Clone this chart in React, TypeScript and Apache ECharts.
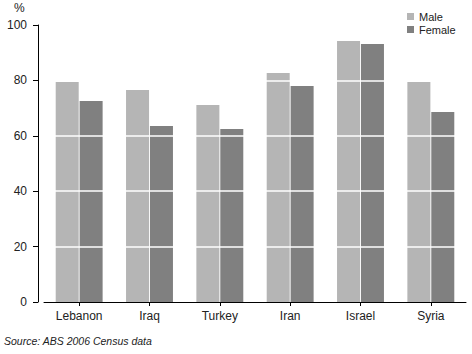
import React, { useEffect, useRef } from "react";
import * as echarts from "echarts";

const categories = ["Lebanon", "Iraq", "Turkey", "Iran", "Israel", "Syria"];
const maleValues = [79.4, 76.5, 71.1, 82.7, 94.2, 79.4];
const femaleValues = [72.6, 63.5, 62.5, 78.0, 93.1, 68.6];
const gridValues = [20, 40, 60, 80];

const FONT = "Liberation Sans, Arial, sans-serif";

export default function App() {
  const ref = useRef<HTMLDivElement>(null);
  useEffect(() => {
    if (!ref.current) return;
    const chart = echarts.init(ref.current, undefined, { renderer: "svg" });
    chart.setOption({
      animation: false,
      backgroundColor: "#ffffff",
      textStyle: { fontFamily: FONT },
      grid: { left: 44, right: 6, top: 25, bottom: 52 },
      legend: {
        orient: "vertical",
        left: 402,
        top: 6,
        itemWidth: 7,
        itemHeight: 7,
        itemGap: 2,
        icon: "rect",
        textStyle: { fontSize: 11, color: "#222", fontFamily: FONT },
        data: ["Male", "Female"],
      },
      graphic: [
        { type: "text", left: 14, top: 2, style: { text: "%", fontSize: 12, fill: "#222", fontFamily: FONT } },
        {
          type: "text",
          left: 4,
          top: 335,
          style: { text: "Source: ABS 2006 Census data", fontSize: 10.5, fontStyle: "italic", fill: "#222", fontFamily: FONT },
        },
      ],
      xAxis: {
        type: "category",
        data: categories,
        axisLine: { show: true, lineStyle: { color: "#000", width: 1 } },
        axisTick: { show: true, alignWithLabel: true, length: 4, lineStyle: { color: "#000" } },
        axisLabel: { fontSize: 12, color: "#222", margin: 8, fontFamily: FONT },
      },
      yAxis: {
        type: "value",
        min: 0,
        max: 100,
        interval: 20,
        offset: 6,
        axisLine: { show: true, lineStyle: { color: "#000", width: 1 } },
        axisTick: { show: true, length: 5, lineStyle: { color: "#000" } },
        axisLabel: { fontSize: 12, color: "#222", margin: 11, fontFamily: FONT },
        splitLine: { show: false },
      },
      series: [
        {
          name: "Male",
          type: "bar",
          data: maleValues,
          barWidth: 23,
          barGap: "4%",
          itemStyle: { color: "#b5b5b5" },
          markLine: {
            silent: true,
            symbol: "none",
            label: { show: false },
            lineStyle: { color: "#ffffff", width: 1.5, type: "solid" },
            data: gridValues.map((v) => ({ yAxis: v })),
            z: 10,
          },
        },
        {
          name: "Female",
          type: "bar",
          data: femaleValues,
          barWidth: 23,
          barGap: "4%",
          itemStyle: { color: "#808080" },
        },
      ],
    });
    return () => chart.dispose();
  }, []);
  return <div ref={ref} style={{ width: 472, height: 354, position: "absolute", left: 0, top: 0 }} />;
}
